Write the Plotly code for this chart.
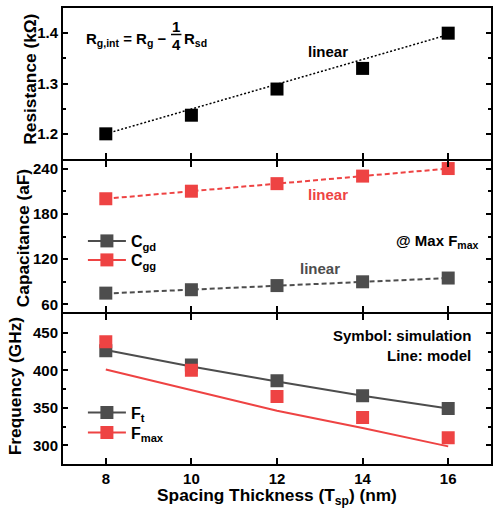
import plotly.graph_objects as go
from plotly.subplots import make_subplots

# ---------------- data ----------------
spacing = [8, 10, 12, 14, 16]

r_gint = [1.200, 1.237, 1.289, 1.330, 1.400]
r_fit_x = [8, 16]
r_fit = [1.200, 1.397]

c_gd = [75, 79.5, 85, 90, 95]
c_gg = [200, 210, 220, 230, 240]
c_fit_x = [8, 16]
c_gd_fit = [74.5, 95]
c_gg_fit = [200, 240]

ft_sim = [426, 407, 386, 366, 349]
ft_model = [427, 405, 385, 366, 349]
fmax_sim = [438, 400, 365, 337, 310]
fmax_model = [401, 373, 346, 323, 298.5]

x_ticks = [8, 10, 12, 14, 16]

BLACK = "#000000"
GREY = "#4D4D4D"
RED = "#EE4343"
FONT = "Liberation Sans, Arial, sans-serif"

# pixel helpers for layout (plot area: x 63..493, y 7..465)
def px_x(p):
    return (p - 63) / 430

def px_y(p):
    return (465 - p) / 458

fig = make_subplots(rows=3, cols=1, shared_xaxes=True, vertical_spacing=0)

# top panel
fig.add_trace(go.Scatter(x=r_fit_x, y=r_fit, mode="lines",
                         line=dict(color=BLACK, width=1.5, dash="2px,2px"),
                         showlegend=False), row=1, col=1)
fig.add_trace(go.Scatter(x=spacing, y=r_gint, mode="markers",
                         marker=dict(symbol="square", size=13, color=BLACK),
                         showlegend=False), row=1, col=1)

# middle panel
fig.add_trace(go.Scatter(x=c_fit_x, y=c_gg_fit, mode="lines",
                         line=dict(color=RED, width=2, dash="5px,3px"),
                         showlegend=False), row=2, col=1)
fig.add_trace(go.Scatter(x=c_fit_x, y=c_gd_fit, mode="lines",
                         line=dict(color=GREY, width=2, dash="5px,3px"),
                         showlegend=False), row=2, col=1)
fig.add_trace(go.Scatter(x=spacing, y=c_gg, mode="markers",
                         marker=dict(symbol="square", size=13, color=RED),
                         showlegend=False), row=2, col=1)
fig.add_trace(go.Scatter(x=spacing, y=c_gd, mode="markers",
                         marker=dict(symbol="square", size=13, color=GREY),
                         showlegend=False), row=2, col=1)
fig.add_trace(go.Scatter(x=[None], y=[None], mode="lines+markers", name="C<sub>gd</sub>",
                         line=dict(color=GREY, width=2),
                         marker=dict(symbol="square", size=13, color=GREY),
                         legend="legend2"), row=2, col=1)
fig.add_trace(go.Scatter(x=[None], y=[None], mode="lines+markers", name="C<sub>gg</sub>",
                         line=dict(color=RED, width=2),
                         marker=dict(symbol="square", size=13, color=RED),
                         legend="legend3"), row=2, col=1)

# bottom panel
fig.add_trace(go.Scatter(x=spacing, y=ft_model, mode="lines",
                         line=dict(color=GREY, width=2), showlegend=False), row=3, col=1)
fig.add_trace(go.Scatter(x=spacing, y=fmax_model, mode="lines",
                         line=dict(color=RED, width=2), showlegend=False), row=3, col=1)
fig.add_trace(go.Scatter(x=spacing, y=ft_sim, mode="markers",
                         marker=dict(symbol="square", size=13, color=GREY),
                         showlegend=False), row=3, col=1)
fig.add_trace(go.Scatter(x=spacing, y=fmax_sim, mode="markers",
                         marker=dict(symbol="square", size=13, color=RED),
                         showlegend=False), row=3, col=1)
fig.add_trace(go.Scatter(x=[None], y=[None], mode="lines+markers", name="F<sub>t</sub>",
                         line=dict(color=GREY, width=2),
                         marker=dict(symbol="square", size=13, color=GREY),
                         legend="legend4"), row=3, col=1)
fig.add_trace(go.Scatter(x=[None], y=[None], mode="lines+markers", name="F<sub>max</sub>",
                         line=dict(color=RED, width=2),
                         marker=dict(symbol="square", size=13, color=RED),
                         legend="legend5"), row=3, col=1)

tickfont = dict(family=FONT, size=15, color="black", weight="bold")
titlefont = dict(family=FONT, size=17.3, color="black", weight="bold")

common_x = dict(range=[7, 17], tickvals=x_ticks, ticks="inside", ticklen=6, tickwidth=1.5,
                tickcolor="black", showline=True, linecolor="black", linewidth=2,
                showgrid=False, zeroline=False, tickfont=tickfont)
fig.update_xaxes(**common_x)
fig.update_xaxes(mirror=True, showticklabels=False, row=1, col=1)
fig.update_xaxes(mirror="ticks", showticklabels=False, row=2, col=1)
fig.update_xaxes(mirror="ticks", showticklabels=True, row=3, col=1,
                 title=dict(text="Spacing Thickness (T<sub>sp</sub>) (nm)", font=titlefont, standoff=4))

common_y = dict(ticks="inside", ticklen=5, tickwidth=1.5, tickcolor="black",
                showline=True, linecolor="black", linewidth=2, mirror="ticks",
                showgrid=False, zeroline=False, tickfont=tickfont)
fig.update_yaxes(**common_y)
fig.update_yaxes(range=[1.15, 1.45], tickvals=[1.2, 1.3, 1.4], ticktext=["1.2", "1.3", "1.4"],
                 minor=dict(ticks="inside", ticklen=3, tickwidth=1.5, tickcolor="black", dtick=0.05, tick0=1.15),
                 row=1, col=1)
fig.update_yaxes(range=[50, 250], tickvals=[60, 120, 180, 240],
                 minor=dict(ticks="inside", ticklen=3, tickwidth=1.5, tickcolor="black", dtick=30, tick0=0),
                 row=2, col=1)
fig.update_yaxes(range=[275, 475], tickvals=[300, 350, 400, 450],
                 minor=dict(ticks="inside", ticklen=3, tickwidth=1.5, tickcolor="black", dtick=25, tick0=0),
                 row=3, col=1)

textfont = dict(family=FONT, size=15, color="black", weight="bold")

annotations = [
    # y-axis titles
    dict(x=px_x(29.5), y=px_y(79), xref="paper", yref="paper", text="Resistance (kΩ)",
         textangle=-90, showarrow=False, xanchor="center", yanchor="middle", font=titlefont),
    dict(x=px_x(23), y=px_y(238), xref="paper", yref="paper", text="Capacitance (aF)",
         textangle=-90, showarrow=False, xanchor="center", yanchor="middle", font=titlefont),
    dict(x=px_x(15), y=px_y(386), xref="paper", yref="paper", text="Frequency (GHz)",
         textangle=-90, showarrow=False, xanchor="center", yanchor="middle", font=titlefont),
    # in-panel labels
    dict(x=13.2, y=1.364, xref="x", yref="y", text="linear", showarrow=False,
         font=dict(textfont, color=BLACK)),
    dict(x=13.2, y=205, xref="x2", yref="y2", text="linear", showarrow=False,
         font=dict(textfont, color=RED)),
    dict(x=13.0, y=107, xref="x2", yref="y2", text="linear", showarrow=False,
         font=dict(textfont, color=GREY)),
    dict(x=16.75, y=144, xref="x2", yref="y2", text="@ Max F<sub>max</sub>", showarrow=False,
         xanchor="right", font=textfont),
    dict(x=16.59, y=447, xref="x3", yref="y3", text="Symbol: simulation", showarrow=False,
         xanchor="right", font=textfont),
    dict(x=16.59, y=419.5, xref="x3", yref="y3", text="Line: model", showarrow=False,
         xanchor="right", font=textfont),
    # formula R_g,int = R_g - 1/4 R_sd
    dict(x=px_x(84), y=px_y(39), xref="paper", yref="paper",
         text="R<sub>g,int</sub> = R<sub>g</sub> −", showarrow=False,
         xanchor="left", yanchor="middle", font=textfont),
    dict(x=px_x(176.7), y=px_y(26.5), xref="paper", yref="paper",
         text="1", showarrow=False, xanchor="center", yanchor="middle", font=textfont),
    dict(x=px_x(176.7), y=px_y(44), xref="paper", yref="paper",
         text="4", showarrow=False, xanchor="center", yanchor="middle", font=textfont),
    dict(x=px_x(182.3), y=px_y(39), xref="paper", yref="paper",
         text="R<sub>sd</sub>", showarrow=False, xanchor="left", yanchor="middle", font=textfont),
]

shapes = [
    dict(type="line", xref="paper", yref="paper",
         x0=px_x(171.5), x1=px_x(182), y0=px_y(34.5), y1=px_y(34.5),
         line=dict(color="black", width=1.5)),
]

legend_style = dict(bgcolor="rgba(0,0,0,0)", borderwidth=0, itemwidth=38,
                    font=dict(family=FONT, size=16, color="black", weight="bold"),
                    xanchor="left", yanchor="middle")

fig.update_layout(
    width=494, height=508,
    margin=dict(l=63, r=1, t=7, b=43),
    paper_bgcolor="white", plot_bgcolor="white",
    showlegend=True,
    yaxis=dict(domain=[px_y(159), px_y(8)]),
    yaxis2=dict(domain=[px_y(312), px_y(161)]),
    yaxis3=dict(domain=[px_y(464), px_y(314)]),
    legend2=dict(legend_style, x=px_x(83), y=px_y(241)),
    legend3=dict(legend_style, x=px_x(83), y=px_y(260)),
    legend4=dict(legend_style, x=px_x(83), y=px_y(412.7)),
    legend5=dict(legend_style, x=px_x(83), y=px_y(432.7)),
    annotations=annotations,
    shapes=shapes,
    font=dict(family=FONT, color="black"),
)

fig.write_html("out.html")
